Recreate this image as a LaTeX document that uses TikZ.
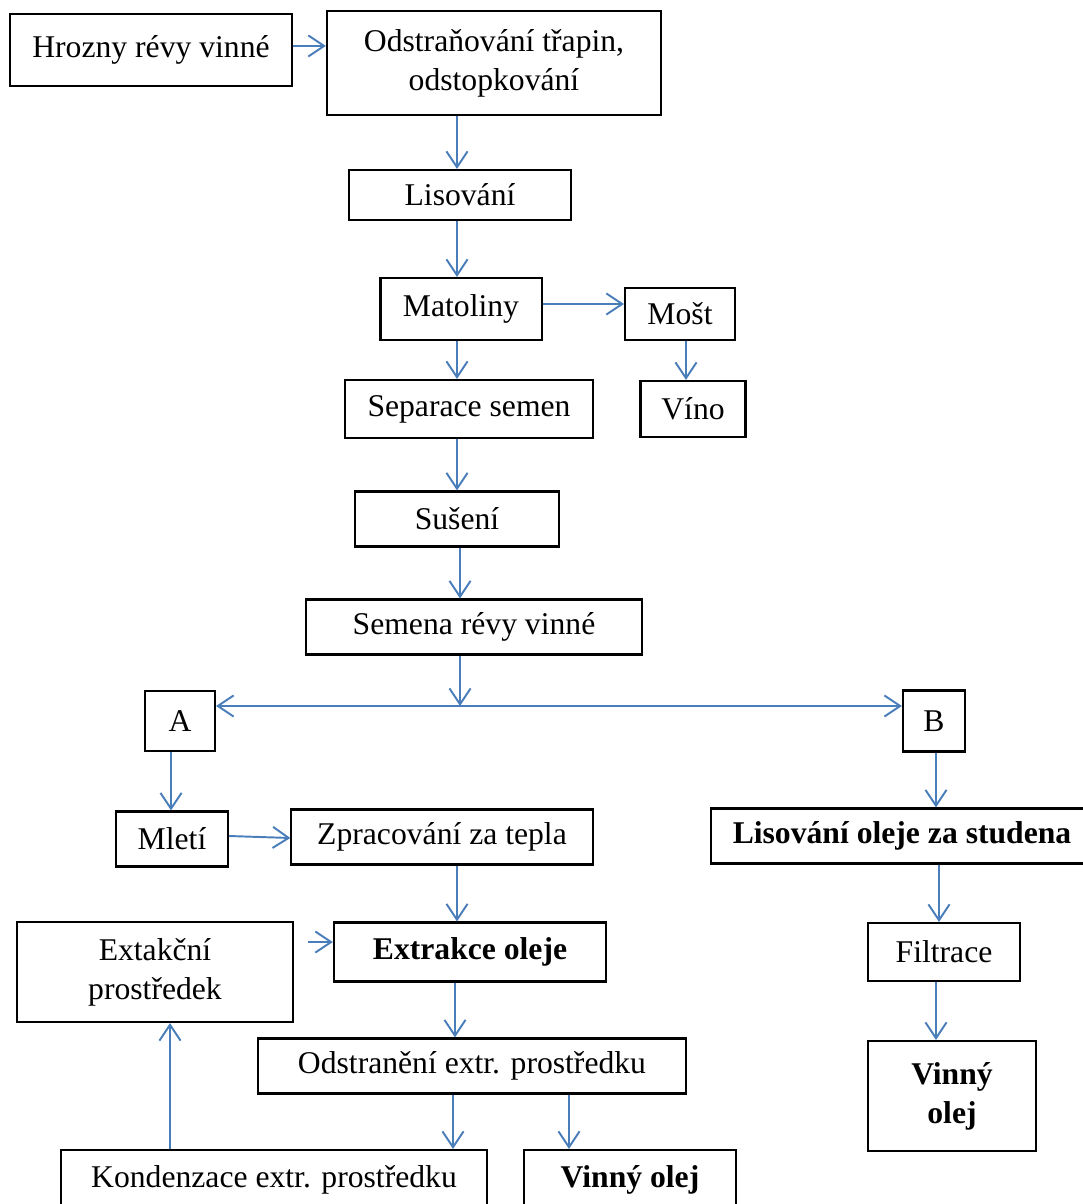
\documentclass[tikz,border=0pt]{standalone}
\usepackage{fontspec}
\setmainfont{Liberation Serif}
\usetikzlibrary{arrows.meta}
\definecolor{arrblue}{HTML}{4A7EBB}

\begin{document}
\begin{tikzpicture}[x=0.01cm,y=-0.01cm,
  box/.style={draw,line width=0.6pt,inner sep=0pt,align=center,font=\fontsize{9}{11.1}\selectfont},
  arr/.style={-{Straight Barb[length=4.5pt,width=6pt]},arrblue,line width=0.55pt}]
  \useasboundingbox (0,0) rectangle (1083,1204);
  \clip (0,0) rectangle (1083,1204);

  \node[box,minimum width=2.82cm,minimum height=0.72cm] (hrozny) at (151,50) {Hrozny révy vinné};
  \node[box,minimum width=3.34cm,minimum height=1.04cm] (odstr) at (494,63) {Odstraňování třapin,\\odstopkování};
  \node[box,minimum width=2.22cm,minimum height=0.50cm] (lis) at (460,195) {Lisování};
  \node[box,minimum width=1.61cm,minimum height=0.62cm] (mat) at (461,309) {Matoliny};
  \node[box,minimum width=1.10cm,minimum height=0.52cm] (most) at (680,314) {Mošt};
  \node[box,minimum width=1.05cm,minimum height=0.56cm] (vino) at (693,409) {Víno};
  \node[box,minimum width=2.48cm,minimum height=0.58cm] (sep) at (469,409) {Separace semen};
  \node[box,minimum width=2.04cm,minimum height=0.55cm] (suseni) at (457,519) {Sušení};
  \node[box,minimum width=3.35cm,minimum height=0.55cm] (semena) at (474,627) {Semena révy vinné};
  \node[box,minimum width=0.70cm,minimum height=0.60cm] (A) at (180,721) {A};
  \node[box,minimum width=0.62cm,minimum height=0.61cm] (B) at (934,721) {B};
  \node[box,minimum width=1.12cm,minimum height=0.55cm] (mleti) at (172,839) {Mletí};
  \node[box,minimum width=3.01cm,minimum height=0.55cm] (zprac) at (442,837) {Zpracování za tepla};
  \node[box,minimum width=2.72cm,minimum height=0.59cm] (extr) at (470,952) {\textbf{Extrakce oleje}};
  \node[box,minimum width=2.75cm,minimum height=1.00cm] (extprost) at (155,972) {Extakční\\prostředek};
  \node[box,minimum width=4.27cm,minimum height=0.55cm] (odstran) at (472,1066) {Odstranění extr. prostředku};
  \node[box,minimum width=4.25cm,minimum height=0.60cm] (kond) at (274,1180) {Kondenzace extr. prostředku};
  \node[box,minimum width=2.12cm,minimum height=0.60cm] (olej1) at (630,1180) {\textbf{Vinný olej}};
  \node[box,minimum width=3.82cm,minimum height=0.55cm] (lisol) at (902,836) {\textbf{Lisování oleje za studena}};
  \node[box,minimum width=1.52cm,minimum height=0.58cm] (filtr) at (944,952) {Filtrace};
  \node[box,minimum width=1.68cm,minimum height=1.10cm] (olej2) at (952,1096) {\textbf{Vinný}\\\textbf{olej}};

  \coordinate (split) at (460,706);
  \coordinate (gap) at (308,942);

  \foreach \a/\b/\x in {odstr/lis/457,lis/mat/457,mat/sep/457,sep/suseni/457,suseni/semena/460,
      most/vino/686,A/mleti/171,zprac/extr/457,extr/odstran/455,odstran/kond/453,odstran/olej1/569,
      B/lisol/936,lisol/filtr/939,filtr/olej2/936}
    \draw[arr] (\a.south -| \x,0) -- (\b.north -| \x,0);

  \draw[arr] (hrozny.east |- 0,46) -- (odstr.west |- 0,46);
  \draw[arr] (mat.east |- 0,304) -- (most.west |- 0,304);
  \draw[arr] (semena.south -| split) -- (split);
  \draw[arr,{Straight Barb[length=4.5pt,width=6pt]}-{Straight Barb[length=4.5pt,width=6pt]}] (A.east |- split) -- (B.west |- split);
  \draw[arr] (mleti.east |- 0,836) -- (zprac.west |- 0,838);
  \draw[arr] (gap) -- (extr.west |- gap);
  \draw[arr] (kond.north -| 170,0) -- (extprost.south -| 170,0);
\end{tikzpicture}
\end{document}
